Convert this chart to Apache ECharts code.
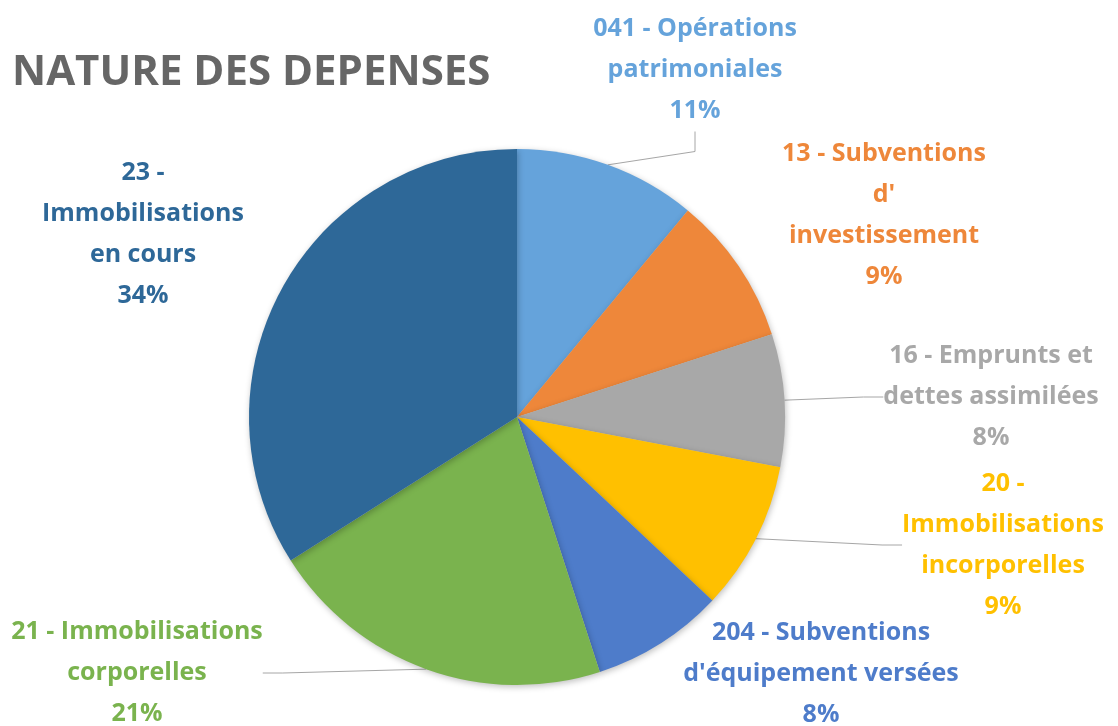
<!DOCTYPE html>
<html>
<head>
<meta charset="utf-8">
<script src="https://cdn.jsdelivr.net/npm/echarts@6/dist/echarts.min.js"></script>
<style>
html,body{margin:0;padding:0;background:#fff;}
#chart{width:1118px;height:726px;}
</style>
</head>
<body>
<div id="chart"></div>
<script>
const title = 'NATURE DES DEPENSES';
const categories = [
  '041 - Opérations patrimoniales',
  '13 - Subventions d\' investissement',
  '16 - Emprunts et dettes assimilées',
  '20 - Immobilisations incorporelles',
  '204 - Subventions d\'équipement versées',
  '21 - Immobilisations corporelles',
  '23 - Immobilisations en cours'
];
const wrappedLabels = [
  '041 - Opérations\npatrimoniales',
  '13 - Subventions\nd\'\ninvestissement',
  '16 - Emprunts et\ndettes assimilées',
  '20 -\nImmobilisations\nincorporelles',
  '204 - Subventions\nd\'équipement versées',
  '21 - Immobilisations\ncorporelles',
  '23 -\nImmobilisations\nen cours'
];
const values = [11, 9, 8, 9, 8, 21, 34];
const colors = ['#65A3DB', '#EE873A', '#A8A8A8', '#FFC000', '#4E7CCA', '#7AB34E', '#2E6898'];
const showLeader = [true, false, true, true, false, true, false];

// label centre positions (layout only)
const labelPos = [
  [695, 70], [884, 215], [991, 397], [1003, 545], [821, 674], [137, 673], [143, 234]
];

const chart = echarts.init(document.getElementById('chart'));
chart.setOption({
  animation: false,
  backgroundColor: '#fff',
  title: {
    text: title,
    left: 7, top: 47,
    textStyle: {fontFamily: 'Open Sans', fontWeight: 'bold', fontSize: 42, color: '#666666'}
  },
  series: [{
    type: 'pie',
    center: [517, 417],
    radius: 268,
    startAngle: 90,
    clockwise: true,
    data: categories.map((c, i) => ({
      name: c, value: values[i],
      itemStyle: {color: colors[i]},
      label: {color: colors[i]},
      labelLine: {show: showLeader[i]}
    })),
    itemStyle: {shadowBlur: 6, shadowColor: 'rgba(0,0,0,0.25)', shadowOffsetX: 1, shadowOffsetY: 2},
    label: {
      show: true,
      position: 'outside',
      formatter: p => wrappedLabels[p.dataIndex] + '\n' + Math.round(p.percent) + '%',
      fontFamily: 'Open Sans',
      fontWeight: 'bold',
      fontSize: 25,
      lineHeight: 41,
      align: 'center'
    },
    labelLine: {
      show: true,
      length: 20, length2: 20,
      lineStyle: {color: '#A6A6A6', width: 1}
    },
    labelLayout: function (params) {
      const p = labelPos[params.dataIndex];
      return {x: p[0], y: p[1], align: 'center', verticalAlign: 'middle'};
    }
  }]
});
</script>
</body>
</html>
